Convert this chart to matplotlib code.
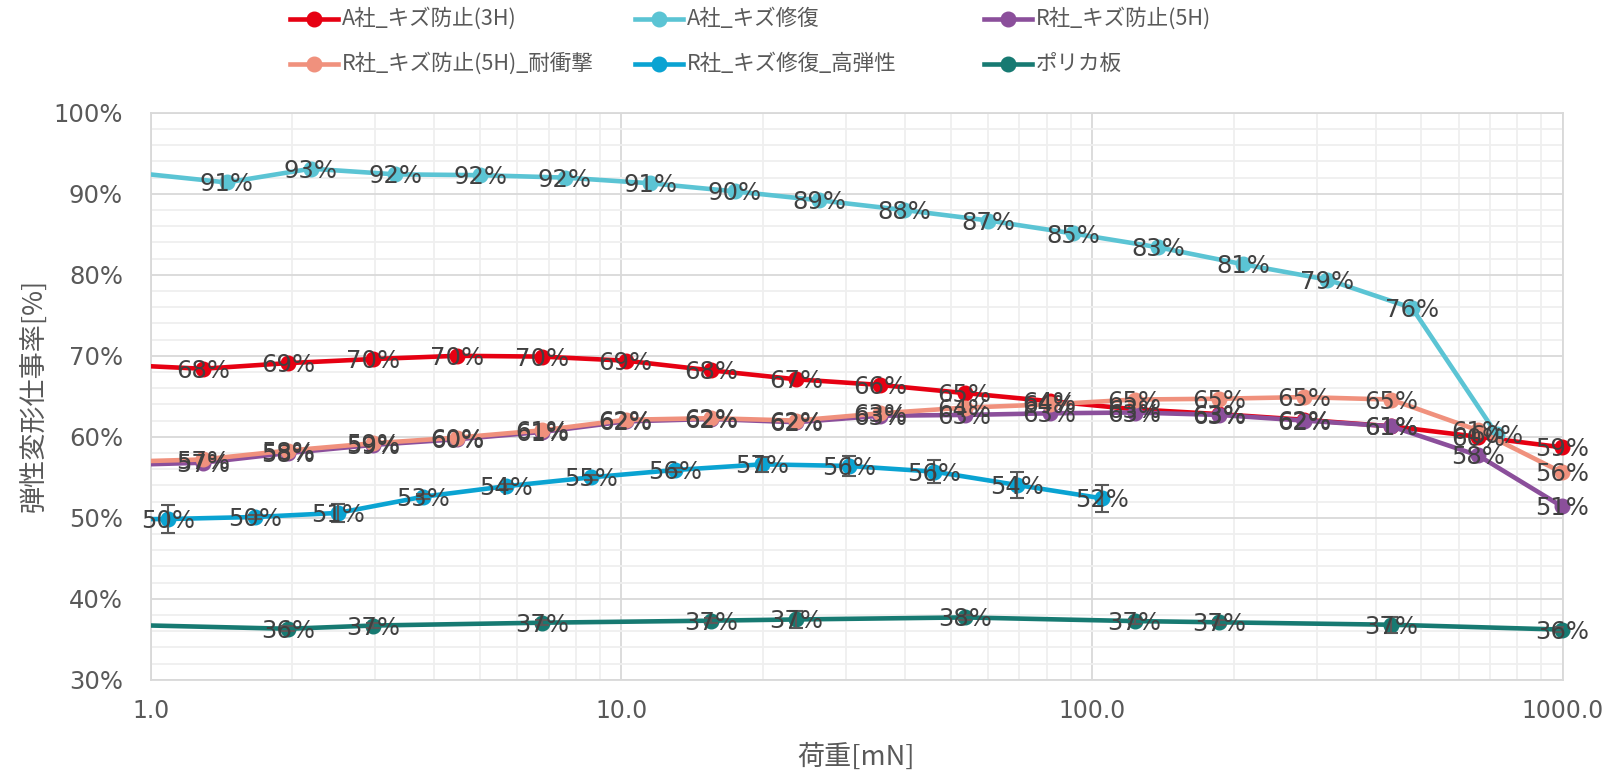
import matplotlib
matplotlib.use("Agg")
import matplotlib.pyplot as plt
from matplotlib.lines import Line2D
from matplotlib.ticker import FixedLocator, FuncFormatter, NullFormatter, MultipleLocator

plt.rcParams["font.family"] = ["DejaVu Sans"]

W, H, DPI = 1607, 771, 100
JP = ["Noto Sans CJK JP", "DejaVu Sans"]
NUM = ["DejaVu Sans"]

# ---- data -------------------------------------------------------------
names = ["A社_キズ防止(3H)", "A社_キズ修復", "R社_キズ防止(5H)",
         "R社_キズ防止(5H)_耐衝撃", "R社_キズ修復_高弾性", "ポリカ板"]
colors = ["#E60012", "#5BC4D4", "#8B4F9B", "#F0917D", "#0AA3D2", "#177A72"]

# load [mN]; the first entry of each series lies just below the axis range
load_a3h = [0.85, 1.29, 1.96, 2.97, 4.48, 6.79, 10.2, 15.5, 23.5, 35.5, 53.6,
            81.2, 123, 186, 282, 431, 660, 995]
rate_a3h = [68.9, 68.4, 69.1, 69.6, 70.0, 69.9, 69.4, 68.2, 67.1, 66.4, 65.4,
            64.4, 63.4, 62.8, 62.1, 61.3, 60.0, 58.7]

load_arep = [0.958, 1.45, 2.19, 3.31, 5.01, 7.58, 11.5, 17.4, 26.3, 39.8, 60.2,
             91.1, 138, 209, 316, 478, 723]
rate_arep = [92.5, 91.4, 93.1, 92.4, 92.3, 92.0, 91.3, 90.3, 89.2, 88.0, 86.7,
             85.1, 83.4, 81.3, 79.4, 75.9, 60.3]

load_r5h = load_a3h
rate_r5h = [56.5, 56.8, 58.0, 59.0, 59.7, 60.6, 61.9, 62.2, 61.8, 62.6, 62.7,
            62.9, 63.0, 62.7, 62.0, 61.3, 57.7, 51.4]

load_r5h_imp = load_a3h
rate_r5h_imp = [56.9, 57.2, 58.3, 59.2, 59.9, 60.8, 62.1, 62.3, 62.0, 62.9, 63.6,
                64.0, 64.6, 64.7, 64.9, 64.6, 60.8, 55.6]

load_rrep = [0.72, 1.09, 1.667, 2.50, 3.79, 5.69, 8.63, 13.0, 19.9, 30.4, 46.1,
             69.2, 105]
rate_rrep = [49.8, 49.85, 50.1, 50.6, 52.6, 53.9, 55.0, 55.9, 56.6, 56.4, 55.7,
             54.05, 52.4]
err_rrep = [0.0, 1.75, 0.3, 1.1, 0.3, 0.3, 0.3, 0.3, 0.95, 1.25, 1.45, 1.65, 1.7]

load_pc = [0.85, 1.96, 2.97, 6.79, 15.5, 23.5, 53.6, 123, 186, 431, 995]
rate_pc = [36.8, 36.3, 36.7, 37.05, 37.3, 37.45, 37.7, 37.25, 37.1, 36.8, 36.2]
err_pc = [0.0, 0.3, 0.3, 0.3, 0.3, 1.0, 0.3, 0.3, 0.3, 1.0, 0.3]

series = [
    (load_a3h, rate_a3h, None),
    (load_arep, rate_arep, None),
    (load_r5h, rate_r5h, None),
    (load_r5h_imp, rate_r5h_imp, None),
    (load_rrep, rate_rrep, err_rrep),
    (load_pc, rate_pc, err_pc),
]

y_ticks = [30, 40, 50, 60, 70, 80, 90, 100]
x_ticks = [1, 10, 100, 1000]

# ---- figure -----------------------------------------------------------
fig = plt.figure(figsize=(W / DPI, H / DPI), dpi=DPI)
ax = fig.add_axes([150.7 / W, 1 - 679.8 / H, (1563 - 150.7) / W, (679.8 - 112.8) / H])
ax.set_xscale("log")
ax.set_xlim(1, 1000)
ax.set_ylim(30, 100)

# grid
ax.yaxis.set_major_locator(FixedLocator(y_ticks))
ax.yaxis.set_minor_locator(MultipleLocator(2))
ax.xaxis.set_major_locator(FixedLocator(x_ticks))
minors = [m * 10 ** e for e in range(3) for m in range(2, 10)]
ax.xaxis.set_minor_locator(FixedLocator(minors))
ax.xaxis.set_minor_formatter(NullFormatter())
ax.grid(True, which="minor", color="#EFEFEF", lw=1.3, zorder=0)
ax.grid(True, which="major", color="#D9D9D9", lw=1.3, zorder=0)
ax.set_axisbelow(True)
for s in ax.spines.values():
    s.set_color("#D9D9D9")
    s.set_linewidth(1.3)

ax.yaxis.set_major_formatter(FuncFormatter(lambda v, p: f"{v:.0f}%"))
ax.xaxis.set_major_formatter(FuncFormatter(lambda v, p: f"{v:.1f}"))
ax.tick_params(which="both", length=0)
ax.tick_params(axis="y", pad=20, labelsize=17.5, labelcolor="#595959")
ax.tick_params(axis="x", pad=14, labelsize=17, labelcolor="#595959")

# series
z = 3
for (xs, ys, es), c in zip(series, colors):
    ax.plot(xs, ys, color=c, lw=3.3, solid_capstyle="round", zorder=z)
    vis = [(x, y, (es[i] if es else 0)) for i, (x, y) in enumerate(zip(xs, ys)) if 1 <= x <= 1000]
    vx = [v[0] for v in vis]
    vy = [v[1] for v in vis]
    ax.plot(vx, vy, ls="none", marker="o", ms=10.5, color=c, mec=c,
            zorder=z + 0.1, clip_on=False)
    if es:
        ax.errorbar(vx, vy, yerr=[v[2] for v in vis], fmt="none", ecolor="#595959",
                    elinewidth=1.5, capsize=5, capthick=1.5, zorder=z + 0.2)
    z += 1

# data labels on top of everything
for xs, ys, _ in series:
    for x, y in zip(xs, ys):
        if 1 <= x <= 1000:
            ax.text(x, y - 0.25, f"{int(y + 0.5)}%", ha="center", va="center",
                    fontsize=17.5, color="#404040", family=NUM, zorder=20,
                    clip_on=False)

# axis titles
fig.text(856 / W, 1 - 757 / H, "荷重[mN]", ha="center", va="center",
         fontsize=19.5, color="#595959", family=JP)
fig.text(34 / W, 1 - 395 / H, "弾性変形仕事率[%]", ha="center", va="center",
         rotation=90, fontsize=19.5, color="#595959", family=JP)

# legend, two rows of three equal-width columns
col_x = [290, 635, 984]
row_y = [18.5, 63.6]
for i, (name, c) in enumerate(zip(names, colors)):
    cx = col_x[i % 3]
    ry = row_y[i // 3]
    yf = 1 - ry / H
    fig.add_artist(Line2D([cx / W, (cx + 48) / W], [yf, yf], color=c, lw=3.3,
                          transform=fig.transFigure))
    fig.add_artist(Line2D([(cx + 24) / W], [yf], marker="o", ms=10.5, color=c,
                          transform=fig.transFigure))
    fig.text((cx + 52) / W, yf, name, ha="left", va="center", fontsize=15.5,
             color="#595959", family=JP)

fig.savefig("out.png", dpi=DPI)
